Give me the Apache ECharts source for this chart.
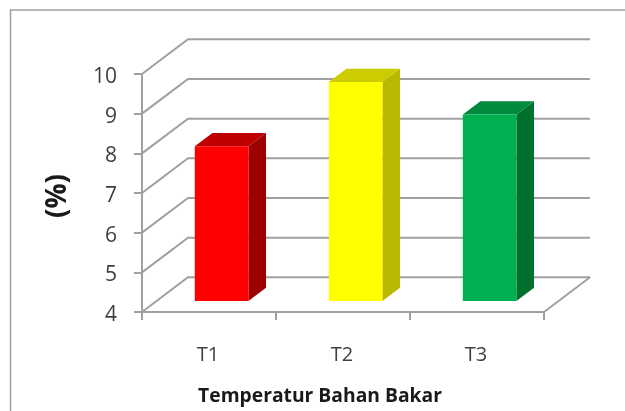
<!DOCTYPE html>
<html>
<head>
<meta charset="utf-8">
<style>
  html, body { margin: 0; padding: 0; background: #fff; }
  #chart { width: 625px; height: 411px; }
</style>
<script src="https://cdn.jsdelivr.net/npm/echarts@6/dist/echarts.min.js"></script>
</head>
<body>
<div id="chart"></div>
<script>
var categories = ['T1', 'T2', 'T3'];
var values = [7.9, 9.52, 8.7];
var wallTicks = [4, 5, 6, 7, 8, 9, 10];
var faceColors = ['#ff0000', '#ffff00', '#00b050'];
var topColors = ['#c00000', '#cccc00', '#008a3e'];
var sideColors = ['#9c0000', '#b8b800', '#00702f'];

var axisGray = '#a0a0a0';
var font = '"Open Sans"';
// depth of the fake 3d box, in pixels
var depthX = 46, depthY = -34.7;
var barStartX = 0.274, barStartY = 0.317, barEnd = 0.70;

function renderWall(params, api) {
  var g = params.coordSys;
  var p = api.coord([0, api.value(0)]);
  var left = g.x, right = g.x + g.width;
  var children = [{
    type: 'polyline',
    shape: { points: [[left, p[1]], [left + depthX, p[1] + depthY], [right + depthX, p[1] + depthY]] },
    style: { stroke: axisGray, lineWidth: 2, fill: null }
  }];
  if (params.dataIndex === 0) {
    children.push({
      type: 'line',
      shape: { x1: right, y1: p[1], x2: right + depthX, y2: p[1] + depthY },
      style: { stroke: axisGray, lineWidth: 2 }
    });
  }
  return { type: 'group', children: children };
}

function renderBar(params, api) {
  var i = api.value(0);
  var top = api.coord([i, api.value(1)]);
  var base = api.coord([i, 4]);
  var w = api.size([1, 0])[0] * 0.4;
  var x0 = top[0] - w / 2 + depthX * barStartX;
  var x1 = x0 + w;
  var yt = top[1] + depthY * barStartY;
  var yb = base[1] + depthY * barStartY;
  var dx = depthX * (barEnd - barStartY), dy = depthY * (barEnd - barStartY);
  return {
    type: 'group',
    children: [
      { type: 'polygon', shape: { points: [[x1, yt], [x1 + dx, yt + dy], [x1 + dx, yb + dy], [x1, yb]] }, style: { fill: sideColors[i] } },
      { type: 'polygon', shape: { points: [[x0, yt], [x0 + dx, yt + dy], [x1 + dx, yt + dy], [x1, yt]] }, style: { fill: topColors[i] } },
      { type: 'rect', shape: { x: x0, y: yt, width: w, height: yb - yt }, style: { fill: faceColors[i] } }
    ]
  };
}

var chart = echarts.init(document.getElementById('chart'), null, { renderer: 'canvas' });
chart.setOption({
  backgroundColor: '#fff',
  animation: false,
  graphic: [
    { type: 'polyline', silent: true, z: 0, shape: { points: [[10.5, 411], [10.5, 10], [625, 10]] }, style: { stroke: '#a0a0a0', lineWidth: 1.5, fill: null } }
  ],
  grid: { left: 142, right: 81, top: 74, bottom: 98.5 },
  xAxis: {
    type: 'category',
    data: categories,
    name: 'Temperatur Bahan Bakar',
    nameLocation: 'middle',
    nameGap: 75,
    nameTextStyle: { fontFamily: font, fontWeight: 'bold', fontSize: 19.3, color: '#1a1a1a', padding: [0, 46, 0, 0] },
    axisLine: { lineStyle: { color: axisGray, width: 2 } },
    axisTick: { show: true, alignWithLabel: false, length: 8, lineStyle: { color: axisGray, width: 2 } },
    axisLabel: { fontFamily: font, fontSize: 20, color: '#404040', margin: 33, padding: [0, 2, 0, 0] }
  },
  yAxis: {
    type: 'value',
    min: 4,
    max: 10,
    interval: 1,
    name: '(%)',
    nameLocation: 'middle',
    nameGap: 70,
    nameRotate: 90,
    nameTextStyle: { fontFamily: font, fontWeight: 'bold', fontSize: 28, color: '#1a1a1a', padding: [0, 6, 0, 0] },
    axisLine: { show: true, lineStyle: { color: axisGray, width: 2 } },
    axisTick: { show: true, length: 8, lineStyle: { color: axisGray, width: 2 } },
    // short line box pushes the digits a little below the tick
    axisLabel: { fontFamily: font, fontSize: 21, color: '#404040', margin: 25, verticalAlign: 'top', lineHeight: 6 },
    splitLine: { show: false }
  },
  series: [
    {
      type: 'custom',
      renderItem: renderWall,
      data: wallTicks.map(function (t) { return [t]; }),
      encode: { y: 0 },
      clip: false,
      silent: true,
      z: 1
    },
    {
      type: 'custom',
      renderItem: renderBar,
      data: values.map(function (v, i) { return [i, v]; }),
      encode: { x: 0, y: 1 },
      clip: false,
      z: 2
    }
  ]
});
</script>
</body>
</html>
